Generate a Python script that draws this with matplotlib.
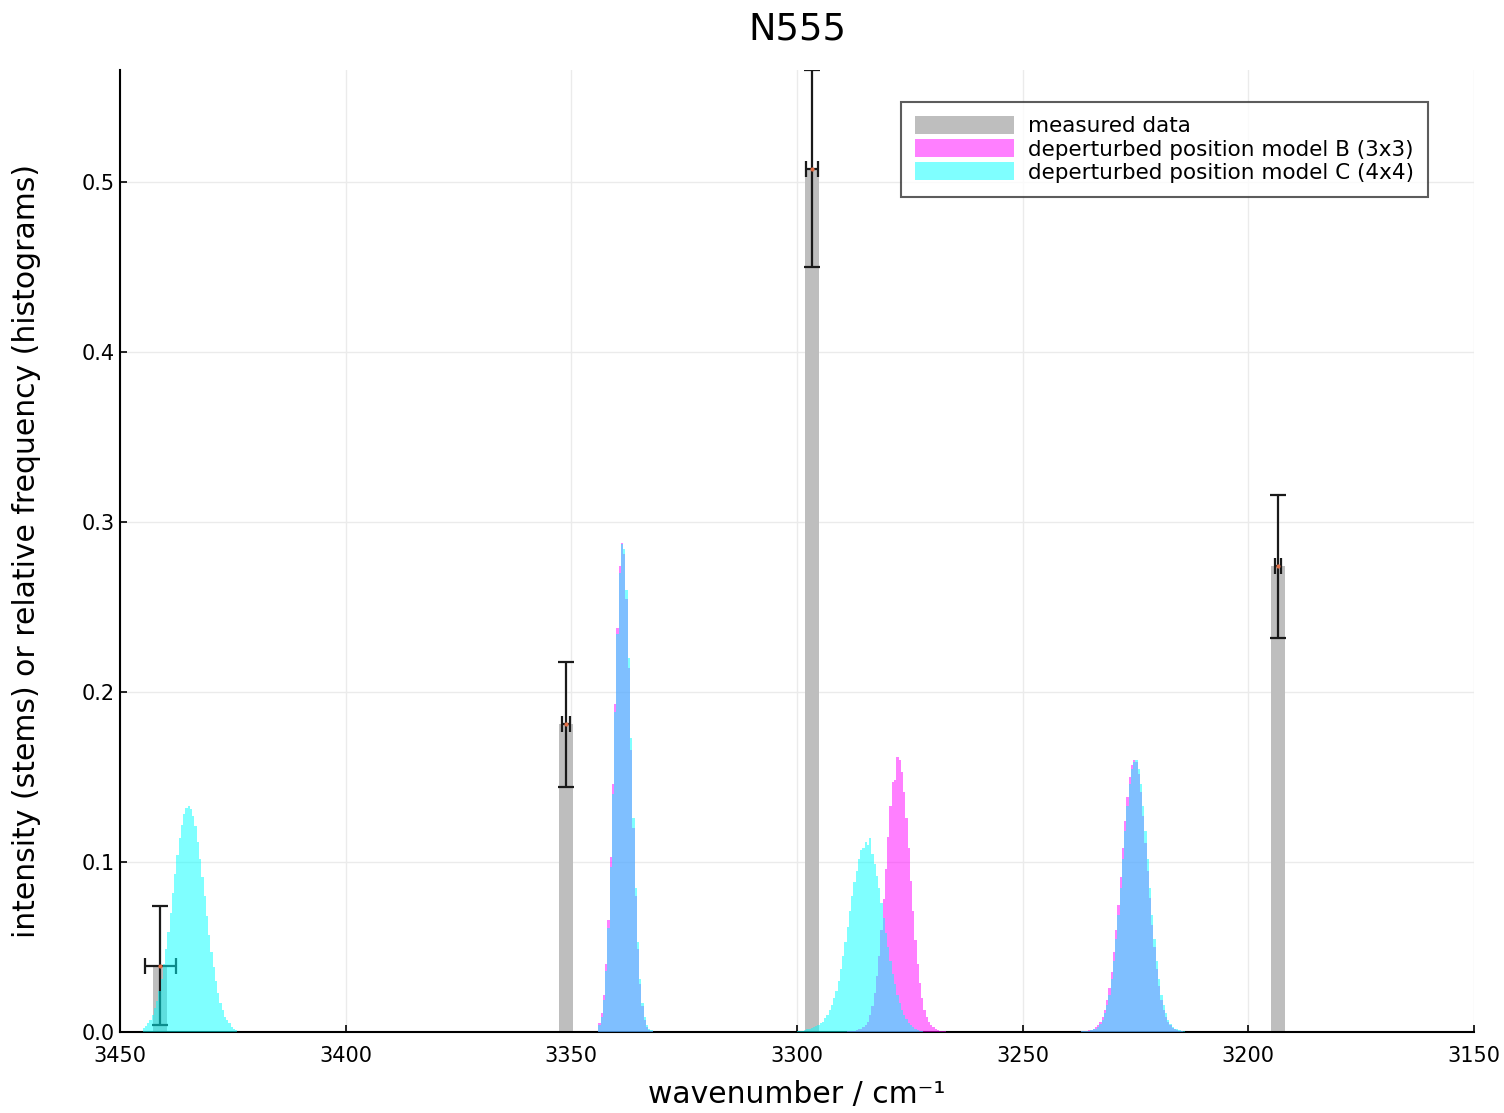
import numpy as np
import matplotlib.pyplot as plt

# measured stems with error bars
stem_pos = [3441.1, 3351.2, 3296.7, 3193.4]
stem_int = [0.039, 0.181, 0.508, 0.274]
stem_yerr = [0.035, 0.037, 0.058, 0.042]
stem_xerr = [3.4, 0.9, 1.4, 0.6]

# histograms of deperturbed positions: first (left) edge, bin width, heights left to right
b_start = [3344.0, 3289.0, 3237.0]
b_width = [0.5, 0.5, 0.5]
b_heights = [
    [0.005, 0.011, 0.022, 0.040, 0.066, 0.103, 0.146, 0.193, 0.238, 0.274, 0.288, 0.281,
     0.255, 0.214, 0.166, 0.120, 0.080, 0.049, 0.028, 0.015, 0.007, 0.003, 0.001, 0.0005],
    [0.0003, 0.0004, 0.0006, 0.0008, 0.001, 0.0015, 0.002, 0.003, 0.004, 0.006,
     0.010, 0.015, 0.023, 0.033, 0.045, 0.060, 0.078, 0.096, 0.115, 0.133,
     0.147, 0.148, 0.162, 0.160, 0.153, 0.141, 0.126, 0.108, 0.089, 0.071,
     0.054, 0.040, 0.029, 0.020, 0.013, 0.009, 0.006, 0.004, 0.003, 0.002,
     0.0013, 0.0008, 0.0005, 0.0003],
    [0.0004, 0.0005, 0.0008, 0.001, 0.0013, 0.002, 0.003, 0.004, 0.006, 0.009,
     0.013, 0.019, 0.026, 0.035, 0.047, 0.060, 0.075, 0.091, 0.108, 0.124,
     0.138, 0.150, 0.157, 0.160, 0.159, 0.152, 0.141, 0.127, 0.111, 0.095,
     0.079, 0.063, 0.050, 0.037, 0.027, 0.019, 0.013, 0.009, 0.006, 0.004,
     0.0025, 0.0015, 0.001, 0.0007, 0.0004, 0.0002],
]

c_start = [3445.0, 3344.0, 3300.0, 3237.0]
c_width = [0.5, 0.5, 0.5, 0.5]
c_heights = [
    [0.0023, 0.0035, 0.005, 0.007, 0.010, 0.014, 0.018, 0.024, 0.031, 0.040,
     0.049, 0.059, 0.070, 0.082, 0.093, 0.104, 0.114, 0.122, 0.128, 0.132,
     0.133, 0.131, 0.127, 0.121, 0.112, 0.102, 0.091, 0.080, 0.068, 0.057,
     0.047, 0.038, 0.030, 0.023, 0.017, 0.013, 0.009, 0.007, 0.005, 0.003,
     0.002, 0.001],
    [0.004, 0.009, 0.019, 0.036, 0.061, 0.097, 0.140, 0.188, 0.234, 0.270, 0.287, 0.284,
     0.260, 0.220, 0.173, 0.126, 0.085, 0.053, 0.031, 0.017, 0.009, 0.004, 0.002, 0.001],
    [0.0005, 0.0005, 0.0008, 0.001, 0.0015, 0.002, 0.0025, 0.003, 0.0035, 0.004,
     0.005, 0.006, 0.008, 0.010, 0.013, 0.016, 0.020, 0.024, 0.030, 0.037,
     0.045, 0.053, 0.062, 0.071, 0.080, 0.088, 0.095, 0.102, 0.107, 0.108,
     0.112, 0.110, 0.114, 0.105, 0.099, 0.092, 0.085, 0.076, 0.067, 0.058,
     0.050, 0.042, 0.034, 0.028, 0.022, 0.017, 0.013, 0.010, 0.0075, 0.0055,
     0.004, 0.003, 0.002, 0.0013, 0.0008, 0.0004],
    [0.0003, 0.0004, 0.0006, 0.0008, 0.001, 0.0015, 0.002, 0.003, 0.0045, 0.007,
     0.011, 0.016, 0.022, 0.031, 0.042, 0.055, 0.069, 0.085, 0.102, 0.118,
     0.133, 0.146, 0.155, 0.159, 0.160, 0.155, 0.146, 0.133, 0.118, 0.102,
     0.085, 0.069, 0.055, 0.042, 0.031, 0.022, 0.016, 0.011, 0.007, 0.0045,
     0.003, 0.002, 0.0015, 0.001, 0.0006, 0.0003],
]

xticks = [3450, 3400, 3350, 3300, 3250, 3200, 3150]
yticks = [0.0, 0.1, 0.2, 0.3, 0.4, 0.5]

fig = plt.figure(figsize=(15.04, 11.13), dpi=100)
ax = fig.add_axes([0.0798, 0.0728, 0.9002, 0.8642])

bars = ax.bar(stem_pos, stem_int, width=3.0, color="#bebebe", label="measured data", zorder=1)
ax.errorbar(stem_pos, stem_int, yerr=stem_yerr, xerr=stem_xerr, fmt="o", ms=2,
            color="#e26f46", ecolor="#1a1a1a", elinewidth=1.6, capsize=5.5,
            capthick=1.6, zorder=2)

def draw_hist(starts, widths, heights, color, label):
    first = None
    for s, w, h in zip(starts, widths, heights):
        edges = s - w * np.arange(len(h) + 1)
        p = ax.stairs(h, edges, fill=True, color=color, alpha=0.5, linewidth=0, zorder=3)
        if first is None:
            first = p
    first.set_label(label)
    return first

hb = draw_hist(b_start, b_width, b_heights, "#ff00ff", "deperturbed position model B (3x3)")
hc = draw_hist(c_start, c_width, c_heights, "#00ffff", "deperturbed position model C (4x4)")

ax.set_xlim(3450, 3150)
ax.set_ylim(0, 0.566)
ax.set_xticks(xticks)
ax.set_yticks(yticks)
ax.set_yticklabels([f"{v:.1f}" for v in yticks])
ax.tick_params(direction="in", length=5, width=1.2, labelsize=15)
ax.tick_params(axis="x", pad=10)
ax.grid(True, color="#ebebeb", linewidth=1.0, zorder=0)
ax.set_axisbelow(True)
for side in ["top", "right"]:
    ax.spines[side].set_visible(False)
for side in ["left", "bottom"]:
    ax.spines[side].set_linewidth(1.5)

ax.set_title("N555", fontsize=26.5, pad=22)
ax.set_xlabel("wavenumber / cm\u207b\u00b9", fontsize=21.5)
ax.set_ylabel("intensity (stems) or relative frequency (histograms)", fontsize=21.5)
ax.xaxis.set_label_coords(0.5, -0.05)
ax.yaxis.set_label_coords(-0.058, 0.5)

leg = ax.legend(handles=[bars, hb, hc], loc="upper right", bbox_to_anchor=(0.966, 0.967),
                borderaxespad=0, fontsize=15.5, frameon=True, fancybox=False,
                edgecolor="#333333", handlelength=4.6, handleheight=0.93,
                labelspacing=0.12, handletextpad=0.65, borderpad=0.65)
leg.get_frame().set_linewidth(1.5)

fig.savefig("out.png", dpi=100)
